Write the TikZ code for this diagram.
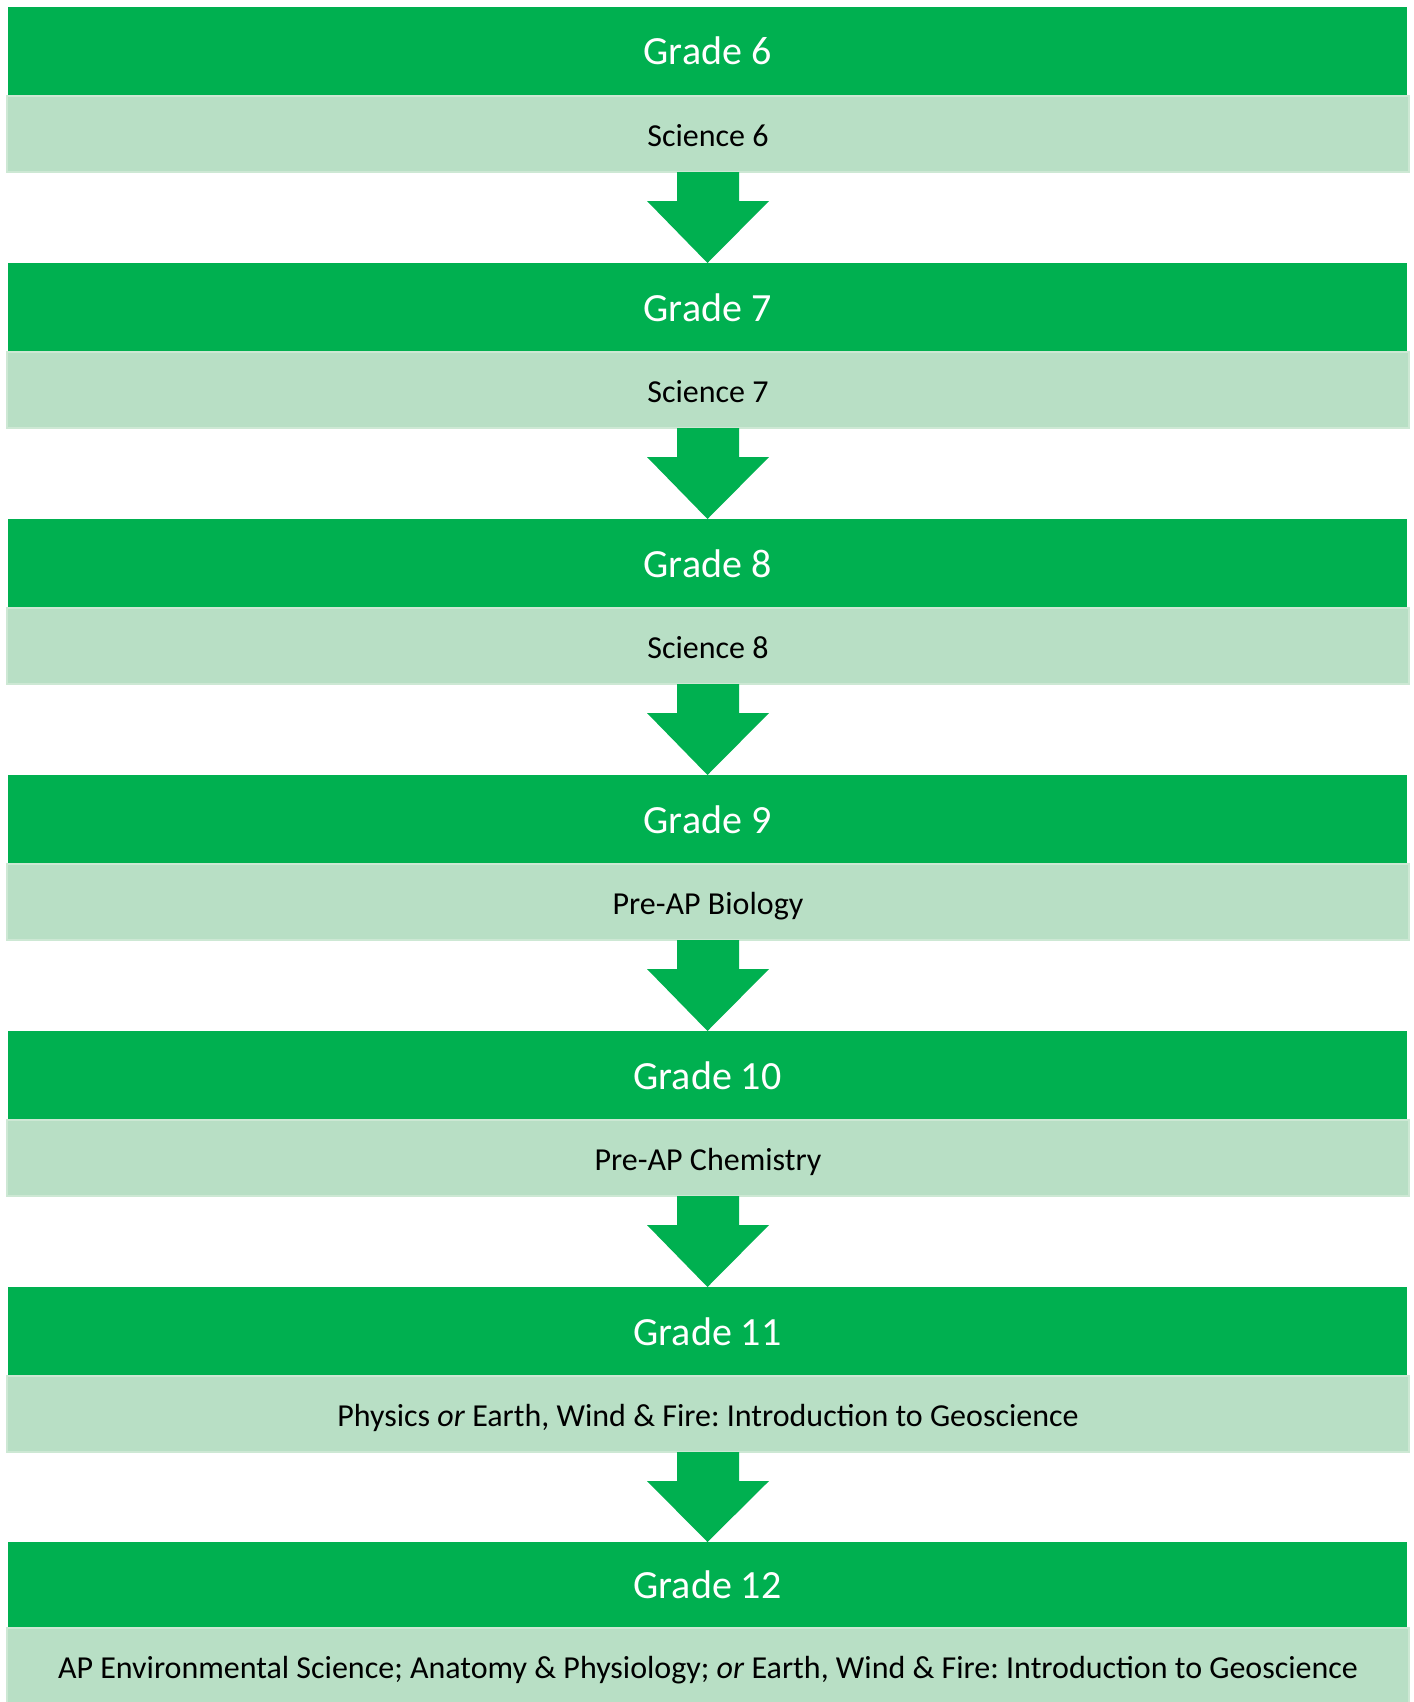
\documentclass[tikz,border=0pt]{standalone}
\usepackage{fontspec}
\setmainfont{Carlito}
\usetikzlibrary{calc}
\definecolor{dgreen}{HTML}{00B050}
\definecolor{lgreen}{HTML}{B8DFC5}
\definecolor{lborder}{HTML}{CDE8D4}
\frenchspacing
\begin{document}
\begin{tikzpicture}[x=0.5pt,y=-0.5pt,
  gradebox/.style={fill=dgreen, draw=none, minimum width=699.5pt, minimum height=44pt,
    inner sep=0pt, outer sep=0pt, anchor=north west, text=white,
    font=\fontsize{20}{24}\selectfont, text height=17pt, text depth=3pt},
  coursebox/.style={fill=lgreen, draw=lborder, line width=1pt, minimum width=701pt,
    minimum height=38pt, inner sep=0pt, outer sep=0pt, anchor=north west, text=black,
    font=\fontsize{16}{19}\selectfont, text height=14.3pt, text depth=1.7pt},
  downarrow/.style={fill=dgreen, draw=none}]
\useasboundingbox (0,0) rectangle (1413,1702);
\fill[white] (0,0) rectangle (1413,1702);

\node[gradebox] (g0) at (8,7) {Grade 6};
\node[coursebox] (c0) at (7,96) {Science 6};
\node[gradebox] (g1) at (8,263) {Grade 7};
\node[coursebox] (c1) at (7,352) {Science 7};
\node[gradebox] (g2) at (8,519) {Grade 8};
\node[coursebox] (c2) at (7,608) {Science 8};
\node[gradebox] (g3) at (8,775) {Grade 9};
\node[coursebox] (c3) at (7,864) {Pre-AP Biology};
\node[gradebox] (g4) at (8,1031) {Grade 10};
\node[coursebox] (c4) at (7,1120) {Pre-AP Chemistry};
\node[gradebox] (g5) at (8,1287) {Grade 11};
\node[coursebox] (c5) at (7,1376) {Physics \textit{or} Earth, Wind \& Fire: Introduction to Geoscience};
\node[gradebox, minimum height=42.5pt] (g6) at (8,1542) {Grade 12};
\node[coursebox] (c6) at (7,1628) {AP Environmental Science; Anatomy \& Physiology; \textit{or} Earth, Wind \& Fire: Introduction to Geoscience};

\foreach \a/\b in {c0/g1, c1/g2, c2/g3, c3/g4, c4/g5, c5/g6}{
  \fill[downarrow] ($(\a.south)+(-31,0)$) -- ($(\a.south)+(31,0)$) -- ($(\a.south)+(31,29)$)
    -- ($(\a.south)+(61,29)$) -- (\b.north) -- ($(\a.south)+(-61,29)$)
    -- ($(\a.south)+(-31,29)$) -- cycle;
}
\end{tikzpicture}
\end{document}
